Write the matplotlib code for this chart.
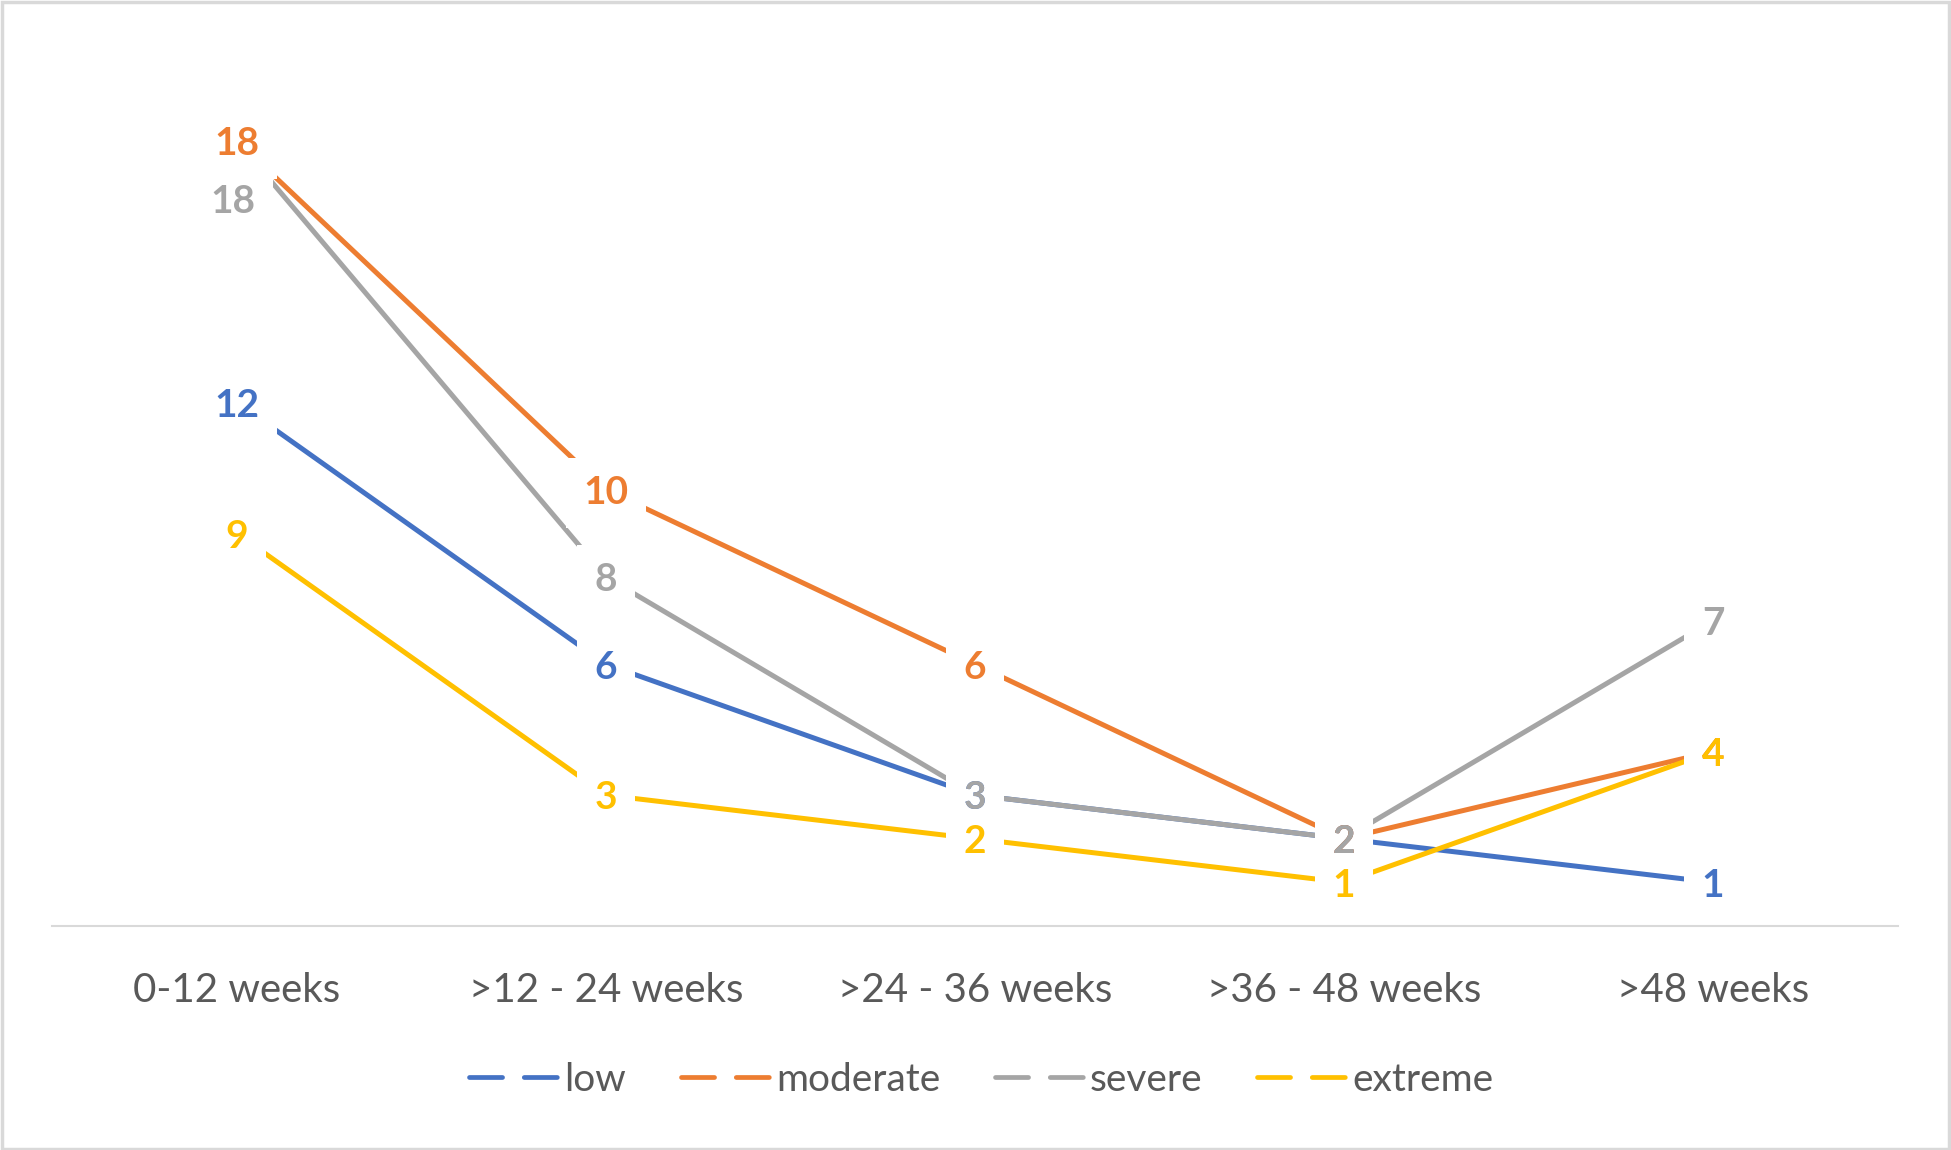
import matplotlib.pyplot as plt
from matplotlib.lines import Line2D
from matplotlib.patches import Rectangle

# Chart data
categories = ['0-12 weeks', '>12 - 24 weeks', '>24 - 36 weeks', '>36 - 48 weeks', '>48 weeks']
series_names = ['low', 'moderate', 'severe', 'extreme']
low = [12, 6, 3, 2, 1]
moderate = [18, 10, 6, 2, 4]
severe = [18, 8, 3, 2, 7]
extreme = [9, 3, 2, 1, 4]

colors = ['#4472C4', '#ED7D31', '#A5A5A5', '#FFC000']
text_grey = '#595959'

plt.rcParams['font.family'] = ['Lato', 'DejaVu Sans']

fig = plt.figure(figsize=(19.51, 11.5), dpi=100)
fig.patches.append(Rectangle((0.001, 0.001), 0.998, 0.997, transform=fig.transFigure,
                             fill=False, edgecolor='#D9D9D9', linewidth=2.5))
ax = fig.add_axes([0.0268, 0.1948, 0.9458, 0.7587])

x = list(range(len(categories)))
all_series = [low, moderate, severe, extreme]

for values, color in zip(all_series, colors):
    ax.plot(x, values, color=color, linewidth=3.6, solid_capstyle='butt', zorder=2)

# label offsets in points (only the severe 18 was moved below the point)
def label_offset(s, i):
    if s == 2 and i == 0:
        return (-3, -44)
    return (0, -2)

# first pass: white boxes covering the lines around each label
for s, values in enumerate(all_series):
    for i, v in enumerate(values):
        ax.annotate(str(v), (x[i], v), xytext=label_offset(s, i), textcoords='offset points',
                    ha='center', va='center', fontsize=28, fontweight='bold', color='white',
                    bbox=dict(boxstyle='square,pad=0.45', facecolor='white', edgecolor='none'),
                    zorder=3)
# second pass: the label texts
for s, values in enumerate(all_series):
    for i, v in enumerate(values):
        ax.annotate(str(v), (x[i], v), xytext=label_offset(s, i), textcoords='offset points',
                    ha='center', va='center', fontsize=28, fontweight='bold', color=colors[s],
                    zorder=4)

ax.set_xlim(-0.5, len(categories) - 0.5)
ax.set_ylim(0, 20)
ax.set_xticks(x)
ax.set_xticklabels(categories, fontsize=29, color=text_grey)
ax.tick_params(axis='x', length=0, pad=33)
ax.set_yticks([])
for side in ['top', 'left', 'right']:
    ax.spines[side].set_visible(False)
ax.spines['bottom'].set_color('#D9D9D9')
ax.spines['bottom'].set_linewidth(1.5)

handles = []
for color in colors:
    h = Line2D([0], [0], color=color, linewidth=3.4, dash_capstyle='round')
    h.set_dashes((7, 4.6))
    handles.append(h)
fig.legend(handles, series_names, loc='center', bbox_to_anchor=(0.503, 0.061), ncol=4,
           frameon=False, fontsize=28, labelcolor=text_grey, handlelength=2.3,
           handletextpad=0.15, columnspacing=1.4)

plt.savefig('out.png', dpi=100)
